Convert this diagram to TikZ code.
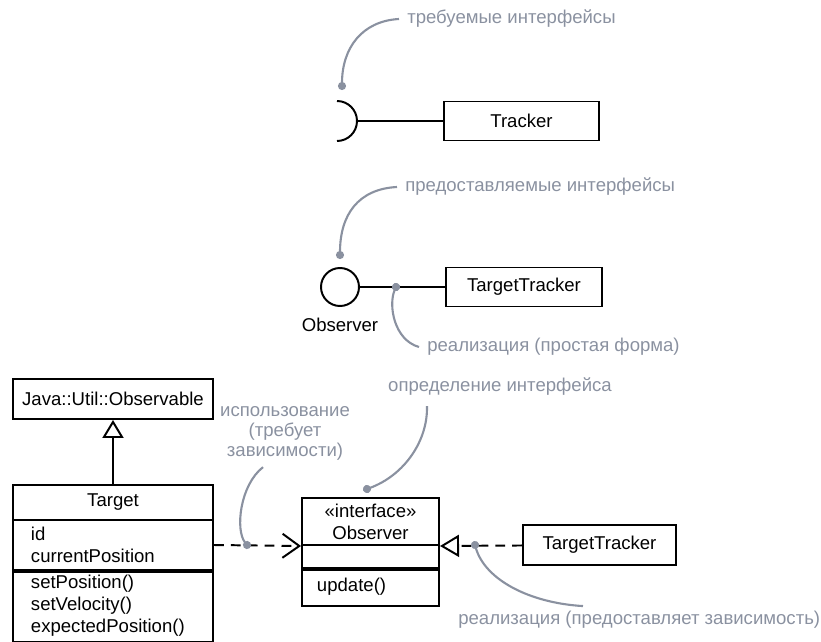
\documentclass[tikz,border=0pt]{standalone}
\usepackage{fontspec}
\setmainfont{Liberation Sans}
\definecolor{NoteGray}{RGB}{138,145,160}
\usetikzlibrary{arrows.meta, positioning, calc}
\newcommand{\umlfont}{\fontsize{13.2pt}{15.6pt}\selectfont}

\begin{document}
\begin{tikzpicture}[
    x=0.025cm, y=-0.025cm,
    font=\umlfont,
    box/.style={rectangle, draw, line width=1.4pt, inner sep=0pt, align=center},
    part/.style={rectangle, draw, line width=1.4pt, inner xsep=#1, inner ysep=0pt, align=left},
    sep/.style={line width=2.4pt},
    line/.style={line width=1.4pt},
    dep/.style={line width=1.4pt, dash pattern=on 7pt off 5pt, -{Straight Barb[length=0.42cm, width=0.6cm]}},
    real/.style={line width=1.4pt, dash pattern=on 7pt off 5pt, -{Triangle[open, length=0.475cm, width=0.55cm]}},
    gen/.style={line width=1.4pt, -{Triangle[open, length=0.45cm, width=0.525cm]}},
    note/.style={draw=NoteGray, line width=1.5pt, shorten >=-0.1cm, -{Circle[length=0.2cm]}},
    notetext/.style={text=NoteGray, inner xsep=0.2cm, inner ysep=0pt, anchor=west}
]
    \useasboundingbox (0,0) rectangle (821,642);

    % required interface
    \node[box, minimum width=3.875cm, minimum height=0.975cm] (tracker) at (521.5,121) {Tracker};
    \coordinate (sock) at (357,121);
    \draw[line] (337,101) arc[start angle=-90, end angle=90, radius=20];
    \draw[line] (sock) -- (tracker);

    % provided interface
    \node[box, circle, minimum size=0.95cm] (lolly) at (340,287) {};
    \node (lollyName) at (340,325) {Observer};
    \node[box, minimum width=3.9cm, minimum height=0.975cm] (tt1) at (524,287) {TargetTracker};
    \draw[line] (lolly) -- (tt1);
    \coordinate (realDot) at (396,287);

    % classes
    \node[box, minimum width=5cm, minimum height=1cm] (observable) at (113,399) {Java::Util::Observable};
    \node[box, minimum width=5cm, minimum height=0.875cm] (target) at (113,502.5) {Target};
    \node[part=0.45cm, text width=4.1cm, minimum height=1.25cm] (targetAttr) at (113,545) {id\\currentPosition};
    \node[part=0.45cm, text width=4.1cm, minimum height=1.8cm] (targetOps) at (113,606) {setPosition()\\setVelocity()\\expectedPosition()};
    \draw[sep] (targetAttr.south west) -- (targetAttr.south east);
    \draw[gen] (target) -- (observable);

    \node[box, minimum width=3.425cm, minimum height=1.175cm] (obsHead) at (370.5,521.5) {«interface»\\Observer};
    \node[box, minimum width=3.425cm, minimum height=0.575cm] (obsAttr) at (370.5,556.5) {};
    \node[part=0.375cm, text width=2.675cm, minimum height=0.95cm] (obsOps) at (370.5,587) {update()};
    \draw[sep] (obsAttr.south west) -- (obsAttr.south east);

    \node[box, minimum width=3.825cm, minimum height=1cm] (tt2) at (599.5,545) {TargetTracker};

    \draw[dep] (targetAttr.east) -- (obsHead.south west);
    \draw[real] (tt2) -- (obsHead.south east);
    \coordinate (useDot) at (247,545);
    \coordinate (provDepDot) at (475,545);

    % notes
    \node[notetext] (reqNote) at (399,19) {требуемые интерфейсы};
    \coordinate (reqDot) at (342,86);
    \draw[note] (reqNote.west) .. controls (362,21) and (342,48) .. (reqDot);

    \node[notetext] (provNote) at (397,187) {предоставляемые интерфейсы};
    \coordinate (provDot) at (340,255);
    \draw[note] (provNote.west) .. controls (358,189) and (340,215) .. (provDot);

    \node[notetext] (realNote) at (419,347) {реализация (простая форма)};
    \draw[note] (realNote.west) .. controls (394,340) and (388,305) .. (realDot);

    \node[text=NoteGray, inner sep=0pt] (ifaceNote) at (500,387) {определение интерфейса};
    \coordinate (ifaceDot) at (367,489);
    \draw[note] ($(ifaceNote.south west)+(39,10)$) .. controls (428,440) and (405,475) .. (ifaceDot);

    \node[text=NoteGray, inner sep=0pt, align=center, font=\fontsize{13.2pt}{14.2pt}\selectfont] (useNote) at (285,433) {использование\\(требует\\зависимости)};
    \draw[note] ($(useNote.south)+(-22,7)$) .. controls (240,485) and (235,530) .. (useDot);

    \node[notetext] (provDepNote) at (450,620) {реализация (предоставляет зависимость)};
    \draw[note] ($(provDepNote.north west)+(133,-5)$) .. controls (530,603) and (485,580) .. (provDepDot);
\end{tikzpicture}
\end{document}
